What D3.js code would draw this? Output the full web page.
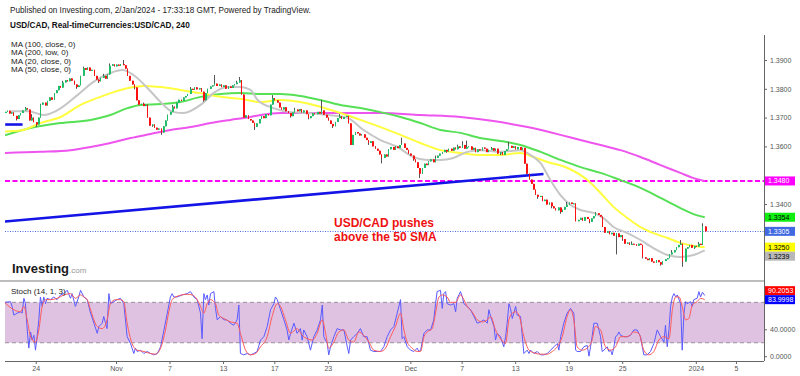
<!DOCTYPE html>
<html lang="en">
<head>
<meta charset="UTF-8">
<title>USD/CAD 240</title>
<script src="https://d3js.org/d3.v7.min.js"></script>
<style>
    body { margin: 0; background: #fff; }
    svg { display: block; font-family: Arial, "Liberation Sans", sans-serif; }
    .axis text { fill: #555; font-size: 7px; }
    .axis line { stroke: #666; }
    .axis path { display: none; }
</style>
</head>
<body>
<div id="chart"></div>
<script>
    // 4H closes, in pips above 1.3000
    const firstOpen = 716;
    const closes = [
        720, 724, 714, 718, 706, 695, 708, 716, 725, 733,
        728, 690, 700, 684, 676, 700, 745, 752, 742, 758,
        770, 762, 785, 795, 810, 804, 822, 830, 826, 836,
        828, 815, 806, 812, 845, 872, 866, 874, 862, 866,
        845, 832, 826, 838, 845, 835, 850, 880, 885, 878,
        884, 880, 886, 882, 870, 845, 828, 815, 805, 760,
        745, 748, 740, 745, 700, 672, 676, 665, 658, 662,
        648, 670, 690, 710, 720, 738, 732, 752, 762, 758,
        770, 775, 782, 800, 796, 805, 798, 802, 790, 760,
        785, 800, 808, 812, 818, 810, 815, 806, 812, 800,
        808, 803, 812, 816, 822, 830, 780, 700, 708, 695,
        690, 682, 668, 680, 695, 705, 698, 712, 708, 745,
        768, 760, 752, 735, 728, 736, 722, 716, 705, 718,
        728, 722, 730, 718, 725, 712, 698, 705, 715, 712,
        720, 714, 725, 710, 700, 690, 678, 670, 685, 698,
        705, 695, 702, 706, 680, 605, 640, 650, 645, 638,
        642, 630, 622, 612, 618, 600, 592, 585, 572, 560,
        572, 565, 590, 598, 588, 600, 594, 605, 610, 595,
        588, 575, 568, 555, 545, 525, 505, 525, 540, 535,
        548, 555, 545, 560, 568, 575, 580, 588, 582, 592,
        585, 596, 590, 600, 595, 605, 592, 598, 600, 588,
        595, 580, 590, 586, 596, 592, 580, 588, 594, 585,
        592, 575, 580, 570, 584, 590, 602, 595, 600, 590,
        598, 588, 595, 540, 505, 485, 470, 450, 432, 425,
        428, 410, 415, 398, 405, 392, 385, 378, 388, 372,
        380, 390, 398, 405, 400, 402, 340, 345, 352, 342,
        355, 348, 338, 350, 358, 368, 362, 356, 320, 300,
        305, 295, 300, 290, 298, 285, 292, 278, 262, 266,
        258, 262, 260, 255, 262, 258, 215, 210, 205, 212,
        200, 196, 205, 198, 190, 202, 208, 212, 225, 232,
        240, 250, 258, 262, 200, 245, 250, 258, 248, 255,
        252, 262, 258, 322, 305
    ];
    // wicks that stick out on the picture: bar -> pips
    const highs = {9: 737, 12: 712, 16: 748, 26: 828, 35: 877, 44: 852, 47: 888, 53: 900, 62: 752, 75: 744,
        83: 806, 94: 848, 104: 828, 105: 841, 120: 778, 130: 734, 142: 761, 150: 712, 165: 612, 178: 630,
        193: 568, 203: 606, 205: 618, 207: 620, 218: 598, 226: 616, 252: 407, 265: 372, 281: 270, 299: 240,
        303: 275, 311: 268, 313: 333};
    const lows = {5: 690, 14: 667, 32: 800, 42: 820, 58: 798, 66: 668, 70: 640, 89: 755, 112: 657, 128: 700,
        136: 694, 147: 664, 163: 605, 169: 541, 183: 550, 186: 490, 198: 578, 222: 570, 239: 418, 245: 385,
        249: 366, 262: 333, 274: 225, 277: 272, 286: 211, 294: 186, 304: 182, 309: 244};

    // moving averages: [bar, pips]
    const ma20 = [[3,722],[10.8,722],[17.5,709],[23.8,726],[32.7,778],[39.9,824],[47.5,855],[52.9,865],[57.8,848],
        [64.1,803],[70,754],[75.8,719],[80.3,716],[87.9,744],[93.7,785],[100,806],[105.8,806],[110.3,796],[113.5,761],
        [120.6,733],[128.3,719],[135.9,716],[144.8,709],[153.8,699],[161,657],[168.6,622],[176.2,598],[183.4,563],
        [189.7,553],[195.5,553],[201.3,560],[207.6,581],[213.5,587],[222.4,581],[231.4,587],[235.9,570],[240.4,542],
        [244.8,483],[249.3,431],[253.8,397],[258.3,379],[264.1,369],[268.6,351],[273.1,320],[279.4,299],[285.2,275],
        [291,247],[297.3,223],[303.1,216],[309,223],[314,239]];
    const ma50 = [[0,652],[7.2,655],[16.1,681],[25.1,702],[34.1,744],[43,772],[52,796],[57.8,806],[62.3,810],[70,806],
        [78.9,796],[87.9,785],[96.9,772],[105.8,765],[114.8,754],[123.8,761],[132.7,754],[141.7,737],[150.7,716],
        [159.6,692],[168.6,667],[177.6,640],[186.5,612],[195.5,587],[204.5,577],[213.5,570],[222.4,570],[231.4,577],
        [237.2,563],[243.5,546],[252.5,525],[261.4,483],[267.3,438],[273.1,390],[279.4,351],[285.2,320],[291,299],
        [297.3,282],[303.1,265],[309,254],[314,250]];
    const ma100 = [[0,638],[11.7,664],[25.1,681],[38.6,692],[47.5,709],[55.2,733],[61,744],[70,747],[78.9,754],
        [87.9,772],[96.9,782],[105.8,785],[114.8,782],[123.8,782],[132.7,775],[141.7,761],[150.7,744],[159.6,733],
        [168.6,719],[177.6,702],[186.5,681],[195.5,657],[204.5,647],[213.5,629],[222.4,619],[231.4,605],[240.4,581],
        [249.3,553],[258.3,528],[267.3,508],[276.2,483],[285.2,456],[294.2,421],[303.1,386],[309,365],[314,354]];
    const ma200 = [[0,577],[16.1,581],[29.6,587],[38.6,598],[47.5,612],[56.5,629],[65.5,643],[74.4,657],[83.4,667],
        [92.4,681],[101.3,692],[110.3,702],[114.8,709],[123.8,716],[150.7,716],[168.6,716],[186.5,709],[204.5,702],
        [219.3,688],[234.5,667],[249.3,640],[258.3,622],[267.3,605],[276.2,587],[285.2,563],[294.2,535],[303.1,508],
        [309,490],[314,480]];

    // drawings on the chart: [bar, pips]
    const trendLine = [[0.2, 339], [241.7, 504]];
    const shortLine = [[0.3, 676], [8.1, 676]];
    const levelPrice = 1.3480;
    const lastPrice = 1.3305;

    // stochastic (14, 1, 3): [bar, value]
    const stochK = [[0,80],[2.7,81],[3.4,74],[4.2,61],[5.7,64],[7.2,66],[7.9,64],[8.7,86],[9.4,78],[10.2,39],[10.9,12],
        [11.7,36],[12.4,24],[13.2,31],[13.9,9],[14.6,29],[15.4,54],[16.1,88],[16.9,74],[17.6,88],[18.4,78],[19.1,86],
        [20.6,84],[22.1,88],[23.6,84],[25.1,91],[26.6,93],[28.1,98],[29.6,86],[30.3,93],[31.8,74],[33.3,88],[34.1,98],
        [35.6,88],[37.1,84],[38.6,64],[40.1,49],[41.6,34],[42.3,44],[43.8,49],[44.5,59],[46,41],[46.8,93],[47.5,78],
        [49,81],[50.5,84],[52,86],[53.5,78],[55,29],[56.5,19],[58,4],[58.7,12],[59.5,7],[61,9],[62.5,4],[64,7],
        [65.5,4],[67,2],[68.5,4],[70,14],[71.5,39],[73,64],[74.4,88],[75.2,93],[75.9,88],[77.4,88],[79.7,91],[81.9,93],
        [83.4,96],[84.9,88],[86.4,84],[87.9,64],[88.6,26],[89.4,93],[90.1,84],[90.9,91],[91.6,76],[92.4,93],[93.9,96],
        [94.6,71],[95.4,54],[96.9,59],[98.4,54],[99.8,54],[101.3,49],[102.8,46],[104.3,54],[105.1,76],[105.8,4],
        [107.3,2],[108.8,4],[110.3,2],[111.8,4],[113.3,7],[114.8,24],[116.3,29],[117.8,44],[119.3,69],[120.8,78],
        [121.5,88],[122.3,84],[123.8,69],[125.3,54],[126.7,39],[127.5,24],[128.3,34],[129.8,49],[131.2,34],[132.7,41],
        [133.5,24],[134.2,39],[135.7,29],[137.2,9],[138.7,29],[140.2,39],[141.7,54],[142.5,76],[143.2,29],[144.7,19],
        [145.4,2],[146.2,14],[147.7,29],[149.2,41],[150.6,39],[152.2,39],[153.7,14],[154.4,4],[155.2,24],[156.6,29],
        [158.2,34],[159.6,41],[161.1,29],[162.6,29],[164.1,9],[165.6,7],[167.1,7],[168.6,7],[170.1,14],[171.6,29],
        [173.1,39],[174.6,44],[176.1,64],[177.6,84],[178.3,26],[179.1,29],[180.6,14],[182.1,9],[183.6,7],[185.1,12],
        [185.8,7],[186.6,9],[188.1,34],[189.6,39],[191.1,39],[192.5,54],[193.3,78],[194,96],[195.5,98],[196.3,71],
        [197,93],[197.8,96],[198.5,78],[200,76],[201.5,78],[202.3,66],[203,86],[204.5,96],[205.3,88],[206,78],
        [207.5,74],[209,69],[210.5,59],[212,49],[213.5,51],[215,54],[216.5,49],[217.2,69],[218,59],[219.5,44],
        [220.2,24],[220.9,34],[222.4,29],[223.2,21],[223.9,14],[224.7,29],[225.4,49],[226.2,78],[226.9,71],[227.7,56],
        [228.4,64],[229.2,74],[229.9,61],[231.4,59],[232.9,4],[234.4,9],[235.2,4],[235.9,9],[237.4,4],[238.9,7],
        [240.4,2],[241.9,2],[243.4,4],[244.9,9],[246.4,14],[247.9,19],[248.6,9],[249.4,29],[250.8,49],[252.3,64],
        [253.8,71],[255.3,64],[256.1,9],[256.8,7],[258.3,7],[259.8,14],[261.3,16],[262.1,0],[262.8,14],[263.5,29],
        [264.3,49],[265.8,49],[267.3,29],[268,7],[268.8,9],[270.3,14],[271,7],[271.8,9],[272.5,2],[273.3,14],[274,29],
        [274.8,31],[275.5,36],[276.3,31],[277.8,29],[279.3,29],[280.7,31],[282.2,39],[283.7,39],[285.2,29],[286,14],
        [286.7,2],[288.2,2],[289.7,7],[291.2,19],[292.7,39],[294.2,29],[295.7,21],[296.4,46],[297.2,14],[298,41],
        [298.7,74],[299.5,88],[300.2,93],[301,88],[301.7,91],[303.2,78],[303.9,9],[304.7,64],[305.4,81],[306.1,78],
        [307.6,81],[308.4,74],[309.1,84],[310.6,86],[311.4,96],[312.1,88],[313,95],[314,90.2]];
    const stochD = [[0,80],[4.2,69],[7.2,66],[8.7,74],[10.2,54],[11.7,29],[13.9,21],[15.4,39],[16.9,74],[18.4,84],
        [20.6,84],[23.6,86],[26.6,91],[29.6,93],[31.8,86],[34.1,91],[35.6,88],[37.1,84],[38.6,69],[41.6,44],[43.8,41],
        [46,54],[47.5,78],[49.8,84],[52,84],[53.5,81],[55,49],[57.2,19],[59.5,9],[62.5,7],[65.5,4],[67.7,3],[70,12],
        [72.2,39],[73.7,66],[75.2,84],[77.4,89],[81.9,92],[84.2,91],[86.4,84],[87.9,74],[89.4,64],[90.9,78],[92.4,84],
        [94.6,78],[96.1,61],[98.4,56],[101.3,51],[104.3,49],[105.8,34],[108.1,9],[110.3,2],[112.6,4],[114.8,14],
        [117.8,29],[120,59],[122.3,78],[123.8,74],[126,54],[128.3,34],[131.2,41],[133.5,31],[135.7,26],[138,24],
        [140.2,34],[142.5,54],[144,34],[145.4,12],[147.7,21],[149.9,36],[152.2,39],[154.4,24],[156.6,21],[158.9,36],
        [161.1,31],[163.4,21],[165.6,9],[168.6,7],[170.9,12],[173.1,29],[175.3,44],[177.6,64],[179.1,39],[180.6,21],
        [182.8,12],[185.1,7],[186.6,7],[188.1,29],[189.6,36],[191.8,41],[193.3,64],[194.8,88],[196.3,91],[198.5,88],
        [200,80],[202.3,80],[204.5,91],[206,84],[207.5,74],[209.7,66],[212,54],[214.3,51],[216.5,54],[218,59],
        [220.2,39],[222.4,26],[224.7,19],[226.2,54],[227.7,64],[229.2,66],[230.7,61],[232.9,29],[235.2,9],[237.4,5],
        [240.4,3],[243.4,3],[245.6,7],[247.9,14],[250.1,29],[252.3,59],[253.8,69],[255.3,54],[256.8,14],[259,9],
        [261.3,12],[263.5,24],[265,44],[267.3,39],[269.5,14],[271.8,9],[274,14],[276.3,29],[279.3,29],[282.2,36],
        [284.4,34],[286.7,9],[288.9,2],[291.2,7],[293.4,24],[295.7,29],[298,26],[299.5,69],[301,88],[302.5,88],
        [303.9,74],[305.4,54],[306.9,56],[308.4,76],[310.6,81],[312.1,86],[314,84]];

    // time axis
    const tickLabels = ['24', 'Nov', '7', '13', '17', '23', 'Dec', '7', '13', '19', '25', '2024', '5'];
    const tickBars = [14, 50, 74, 98, 121, 145, 182, 205, 229, 253, 277, 310, 328];

    // right hand labels
    const priceTicks = [1.32, 1.33, 1.34, 1.35, 1.36, 1.37, 1.38, 1.39];
    const priceTags = [
        { value: 1.3480, bg: '#ff00ff', fg: '#fff' },
        { value: 1.3354, bg: '#11ee11', fg: '#000' },
        { value: 1.3305, bg: '#4169e1', fg: '#fff' },
        { value: 1.3250, bg: '#ffff00', fg: '#000' },
        { value: 1.3239, bg: '#b8b8b8', fg: '#000' }
    ];
    const stochTicks = [0, 40, 80];
    const stochTags = [
        { value: 90.2053, bg: '#ff0000', fg: '#fff' },
        { value: 83.9998, bg: '#0000ff', fg: '#fff' }
    ];

    const legendLines = ['MA (100, close, 0)', 'MA (200, low, 0)', 'MA (20, close, 0)', 'MA (50, close, 0)'];

    // ---- layout
    const W = 800, H = 376;
    const plotLeft = 4.5, barStep = 2.23, panelLeft = 5, axisX = 764;
    const mainTop = 35, mainBottom = 280, sepY = 281, stochBottom = 361;
    const tagH = 9;

    const svg = d3.select('#chart').append('svg').attr('width', W).attr('height', H);
    svg.append('rect').attr('width', W).attr('height', H).attr('fill', '#fff');

    const x = d3.scaleLinear().domain([0, 340]).range([plotLeft, plotLeft + 340 * barStep]);
    const y = d3.scaleLinear().domain([1.32, 1.39]).range([261.6, 60]);
    const ys = d3.scaleLinear().domain([0, 100]).range([356.2, 288.9]);
    const price = p => 1.3 + p / 10000;

    const defs = svg.append('defs');
    defs.append('clipPath').attr('id', 'clipMain').append('rect')
        .attr('x', panelLeft).attr('y', mainTop).attr('width', axisX - panelLeft).attr('height', mainBottom - mainTop);
    defs.append('clipPath').attr('id', 'clipStoch').append('rect')
        .attr('x', panelLeft).attr('y', sepY + 1).attr('width', axisX - panelLeft).attr('height', stochBottom - sepY - 1);

    // ---- header
    svg.append('text').attr('x', 10).attr('y', 12.5).attr('font-size', 8.2).attr('fill', '#222')
        .text('Published on Investing.com, 2/Jan/2024 - 17:33:18 GMT, Powered by TradingView.');
    svg.append('text').attr('x', 10).attr('y', 27.5).attr('font-size', 8.2).attr('font-weight', 'bold').attr('fill', '#111')
        .text('USD/CAD, Real-timeCurrencies:USD/CAD, 240');

    // ---- main panel
    const main = svg.append('g').attr('clip-path', 'url(#clipMain)');

    main.append('line')
        .attr('x1', panelLeft).attr('x2', axisX)
        .attr('y1', y(levelPrice)).attr('y2', y(levelPrice))
        .attr('stroke', '#ff00ff').attr('stroke-width', 2).attr('stroke-dasharray', '5,2.5');

    main.append('line')
        .attr('x1', panelLeft).attr('x2', axisX)
        .attr('y1', Math.round(y(lastPrice)) + 0.5).attr('y2', Math.round(y(lastPrice)) + 0.5)
        .attr('stroke', '#4a6ee0').attr('stroke-width', 1).attr('stroke-dasharray', '1,1.5');

    const maLine = d3.line().x(d => x(d[0])).y(d => y(price(d[1]))).curve(d3.curveMonotoneX);
    [[ma200, '#ee55ee'], [ma100, '#55e055'], [ma50, '#ffff40'], [ma20, '#c6c6c6']].forEach(([pts, col]) => {
        main.append('path').attr('d', maLine(pts)).attr('fill', 'none')
            .attr('stroke', col).attr('stroke-width', 2);
    });

    const straight = d3.line().x(d => x(d[0])).y(d => y(price(d[1])));
    main.append('path').attr('d', straight(trendLine)).attr('stroke', '#1414e6').attr('stroke-width', 2.6).attr('fill', 'none');
    main.append('path').attr('d', straight(shortLine)).attr('stroke', '#1414e6').attr('stroke-width', 2.6).attr('fill', 'none');

    const candles = closes.map((c, i) => {
        const o = i ? closes[i - 1] : firstOpen;
        return {
            i, o, c,
            h: Math.max(o, c, highs[i] !== undefined ? highs[i] : -1),
            l: Math.min(o, c, lows[i] !== undefined ? lows[i] : 9999)
        };
    });

    main.selectAll('.wick').data(candles).enter().append('line')
        .attr('class', 'wick')
        .attr('x1', d => Math.round(x(d.i)) + 0.5).attr('x2', d => Math.round(x(d.i)) + 0.5)
        .attr('y1', d => y(price(d.h))).attr('y2', d => y(price(d.l)))
        .attr('stroke', '#555').attr('stroke-width', 1);

    main.selectAll('.body').data(candles).enter().append('rect')
        .attr('class', 'body')
        .attr('x', d => Math.round(x(d.i)))
        .attr('width', d => (d.i % 3 === 1 ? 1 : 2))
        .attr('y', d => y(price(Math.max(d.o, d.c))))
        .attr('height', d => Math.max(1, Math.abs(y(price(d.o)) - y(price(d.c)))))
        .attr('fill', d => (d.c >= d.o ? '#1fbf68' : '#ff1010'));

    // legend + annotation
    legendLines.forEach((t, k) => {
        svg.append('text').attr('x', 11).attr('y', 47 + k * 8.4).attr('font-size', 8).attr('fill', '#222').text(t);
    });
    const note = svg.append('text').attr('font-size', 12).attr('font-weight', 'bold').attr('fill', '#ee1111');
    note.append('tspan').attr('x', 334).attr('y', 226.5).text('USD/CAD pushes');
    note.append('tspan').attr('x', 334).attr('y', 240.5).text('above the 50 SMA');

    // investing logo
    const logo = svg.append('text').attr('x', 12).attr('y', 273);
    logo.append('tspan').attr('font-size', 13).attr('font-weight', 'bold').attr('fill', '#1a1a1a').text('Investing');
    logo.append('tspan').attr('font-size', 8).attr('fill', '#999').text('.com');

    // ---- stoch panel
    svg.append('line').attr('x1', 0).attr('x2', axisX).attr('y1', sepY).attr('y2', sepY)
        .attr('stroke', '#bdbdbd').attr('stroke-width', 2);

    const stoch = svg.append('g').attr('clip-path', 'url(#clipStoch)');
    stoch.append('rect')
        .attr('x', panelLeft).attr('width', axisX - panelLeft)
        .attr('y', ys(80)).attr('height', ys(20) - ys(80))
        .attr('fill', '#dfc2e2');
    [80, 20].forEach(v => {
        stoch.append('line').attr('x1', panelLeft).attr('x2', axisX)
            .attr('y1', ys(v)).attr('y2', ys(v))
            .attr('stroke', '#9a8f9c').attr('stroke-dasharray', '4,3');
    });
    const stLine = d3.line().x(d => x(d[0])).y(d => ys(d[1]));
    stoch.append('path').attr('d', stLine(stochK)).attr('fill', 'none').attr('stroke', '#5a5aff').attr('stroke-width', 1);
    stoch.append('path').attr('d', stLine.curve(d3.curveMonotoneX)(stochD)).attr('fill', 'none')
        .attr('stroke', '#ff5a5a').attr('stroke-width', 1);

    svg.append('text').attr('x', 11).attr('y', 294).attr('font-size', 8).attr('fill', '#222').text('Stoch (14, 1, 3)');

    // ---- value tags: place them, pushing apart where they collide
    function placeTags(tags, scale, push) {
        const placed = tags.map(t => ({ ...t, cy: scale(t.value) }));
        placed.sort((a, b) => a.cy - b.cy);
        if (push === 'down') {
            for (let k = 1; k < placed.length; k++) {
                placed[k].cy = Math.max(placed[k].cy, placed[k - 1].cy + tagH);
            }
        } else {
            for (let k = placed.length - 2; k >= 0; k--) {
                placed[k].cy = Math.min(placed[k].cy, placed[k + 1].cy - tagH);
            }
        }
        return placed;
    }
    const priceTagPos = placeTags(priceTags, y, 'down');
    const stochTagPos = placeTags(stochTags, ys, 'up');
    // axis tick labels sitting under a tag are hidden by it
    const free = (scale, tags) => v => tags.every(t => Math.abs(scale(v) - t.cy) > tagH);

    // ---- axes
    svg.append('line').attr('x1', axisX + 0.5).attr('x2', axisX + 0.5).attr('y1', mainTop).attr('y2', stochBottom)
        .attr('stroke', '#666');
    svg.append('line').attr('x1', panelLeft).attr('x2', axisX).attr('y1', stochBottom + 0.5).attr('y2', stochBottom + 0.5)
        .attr('stroke', '#666');

    svg.append('g').attr('class', 'axis').attr('transform', `translate(${axisX},0)`)
        .call(d3.axisRight(y).tickValues(priceTicks.filter(free(y, priceTagPos)))
            .tickFormat(d3.format('.4f')).tickSize(3).tickPadding(3));
    svg.append('g').attr('class', 'axis').attr('transform', `translate(${axisX},0)`)
        .call(d3.axisRight(ys).tickValues(stochTicks.filter(free(ys, stochTagPos)))
            .tickFormat(d3.format('.4f')).tickSize(3).tickPadding(3));

    const bottomAxis = d3.axisBottom(x).tickValues(tickBars).tickSize(3).tickPadding(2)
        .tickFormat((d, k) => tickLabels[k]);
    svg.append('g').attr('class', 'axis').attr('transform', `translate(0,${stochBottom})`).call(bottomAxis);

    const fmt = d3.format('.4f');
    priceTagPos.concat(stochTagPos).forEach(t => {
        svg.append('rect').attr('x', axisX + 1).attr('y', t.cy - tagH / 2).attr('width', 30).attr('height', tagH)
            .attr('fill', t.bg);
        svg.append('text').attr('x', axisX + 4).attr('y', t.cy + 2.5).attr('font-size', 7)
            .attr('fill', t.fg).text(fmt(t.value));
    });
</script>
</body>
</html>
